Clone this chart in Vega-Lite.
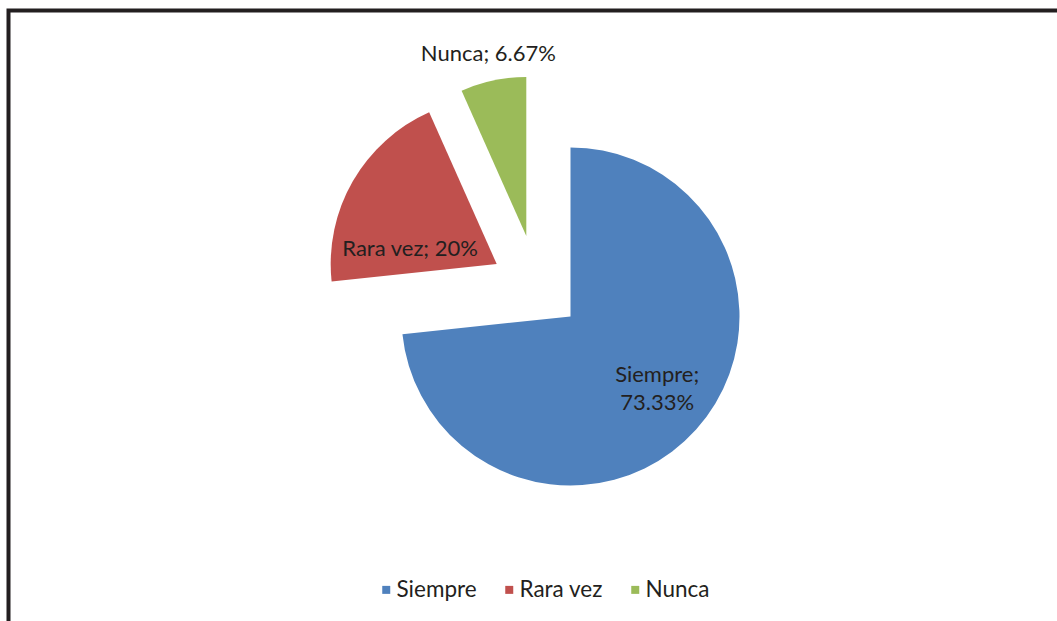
{
  "$schema": "https://vega.github.io/schema/vega-lite/v6.json",
  "width": 1124,
  "height": 612,
  "autosize": {"type": "none"},
  "padding": {"left": 8.5, "top": 10.5, "right": -75.5, "bottom": -1.5},
  "background": "white",
  "view": {"stroke": "#231F20", "strokeWidth": 4, "strokeDash": [1124, 1736, 612], "fill": null},
  "config": {"font": "Lato"},
  "data": {
    "values": [
      {"categoria": "Siempre", "porcentaje": 73.33, "orden": 1, "etiqueta": "Siempre;\n73.33%"},
      {"categoria": "Rara vez", "porcentaje": 20, "orden": 2, "etiqueta": "Rara vez; 20%"},
      {"categoria": "Nunca", "porcentaje": 6.67, "orden": 3, "etiqueta": "Nunca; 6.67%"}
    ]
  },
  "encoding": {
    "theta": {"field": "porcentaje", "type": "quantitative", "stack": true},
    "order": {"field": "orden", "type": "quantitative", "sort": "ascending"},
    "color": {
      "field": "categoria",
      "type": "nominal",
      "sort": ["Siempre", "Rara vez", "Nunca"],
      "scale": {"domain": ["Siempre", "Rara vez", "Nunca"], "range": ["#4F81BD", "#C0504D", "#9BBB59"]},
      "legend": {
        "orient": "none",
        "legendX": 366.5,
        "legendY": 568,
        "direction": "horizontal",
        "title": null,
        "symbolType": "square",
        "symbolSize": 64,
        "symbolOpacity": 1,
        "symbolStrokeWidth": 0,
        "labelFont": "Lato",
        "labelFontSize": 22.5,
        "labelColor": "#231F20",
        "labelOffset": -1,
        "columnPadding": 21
      }
    }
  },
  "layer": [
    {
      "mark": {"type": "arc", "outerRadius": 169},
      "encoding": {"opacity": {"condition": {"test": "datum.categoria === 'Siempre'", "value": 1}, "value": 0}}
    },
    {
      "mark": {"type": "arc", "outerRadius": 166, "xOffset": -73.8, "yOffset": -52.5},
      "encoding": {"opacity": {"condition": {"test": "datum.categoria === 'Rara vez'", "value": 1}, "value": 0}}
    },
    {
      "mark": {"type": "arc", "outerRadius": 159, "xOffset": -44.2, "yOffset": -80.5},
      "encoding": {"opacity": {"condition": {"test": "datum.categoria === 'Nunca'", "value": 1}, "value": 0}}
    },
    {
      "mark": {"type": "text", "radius": 112.6, "fontSize": 22, "font": "Lato", "lineBreak": "\n", "lineHeight": 28, "align": "center", "baseline": "middle", "dx": 3, "dy": -17},
      "encoding": {
        "text": {"field": "etiqueta", "type": "nominal"},
        "color": {"value": "#231F20"},
        "opacity": {"condition": {"test": "datum.categoria === 'Siempre'", "value": 1}, "value": 0}
      }
    },
    {
      "mark": {"type": "text", "radius": 100, "fontSize": 22, "font": "Lato", "align": "center", "baseline": "middle", "xOffset": -73.8, "yOffset": -52.5, "dy": 35},
      "encoding": {
        "text": {"field": "etiqueta", "type": "nominal"},
        "color": {"value": "#231F20"},
        "opacity": {"condition": {"test": "datum.categoria === 'Rara vez'", "value": 1}, "value": 0}
      }
    },
    {
      "mark": {"type": "text", "radius": 187, "fontSize": 22, "font": "Lato", "align": "center", "baseline": "middle", "xOffset": -44.2, "yOffset": -80.5, "dx": 1, "dy": 1},
      "encoding": {
        "text": {"field": "etiqueta", "type": "nominal"},
        "color": {"value": "#231F20"},
        "opacity": {"condition": {"test": "datum.categoria === 'Nunca'", "value": 1}, "value": 0}
      }
    }
  ]
}
